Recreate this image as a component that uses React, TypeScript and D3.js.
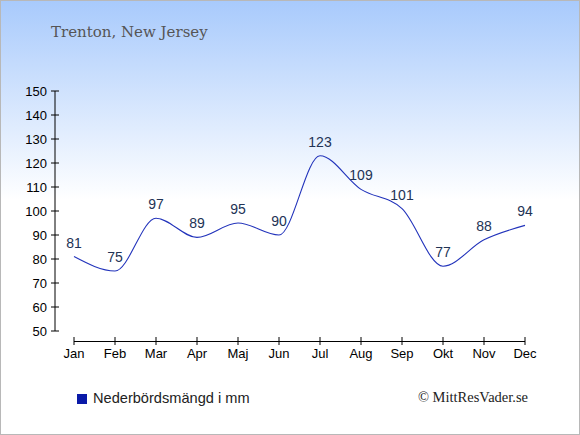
import React from 'react';
import * as d3 from 'd3';

const months = ['Jan', 'Feb', 'Mar', 'Apr', 'Maj', 'Jun', 'Jul', 'Aug', 'Sep', 'Okt', 'Nov', 'Dec'];
const precipitation = [81, 75, 97, 89, 95, 90, 123, 109, 101, 77, 88, 94];
const yTicks = [50, 60, 70, 80, 90, 100, 110, 120, 130, 140, 150];

const W = 580;
const H = 435;

const App: React.FC = () => {
  const x = d3.scalePoint<string>().domain(months).range([74, 525]);
  const y = d3.scaleLinear().domain([50, 150]).range([331, 91]);

  const line = d3.line<number>()
    .x((_, i) => x(months[i]) as number)
    .y(d => y(d))
    .curve(d3.curveMonotoneX);

  return (
    <svg width={W} height={H} style={{ position: 'absolute', left: 0, top: 0 }}>
      <defs>
        <linearGradient id="bg" x1="0" y1="0" x2="0" y2="1">
          <stop offset="0" stopColor="#a8cafc" />
          <stop offset="0.46" stopColor="#ffffff" />
          <stop offset="1" stopColor="#ffffff" />
        </linearGradient>
      </defs>
      <rect x={0.5} y={0.5} width={W - 1} height={H - 1} fill="url(#bg)" stroke="#b8b8b8" />

      <text x={51} y={37} fontFamily="'DejaVu Serif', serif" fontSize={15} fill="#555">
        Trenton, New Jersey
      </text>

      {/* y axis */}
      <g fontFamily="'Liberation Sans', Arial, sans-serif" fontSize={13} fill="#000">
        <line x1={55} x2={55} y1={y(150)} y2={y(50)} stroke="#000" />
        {yTicks.map(t => (
          <g key={t}>
            <line x1={51} x2={59} y1={y(t)} y2={y(t)} stroke="#000" />
            <text x={47} y={y(t) + 5} textAnchor="end">{t}</text>
          </g>
        ))}
      </g>

      {/* x axis */}
      <g fontFamily="'Liberation Sans', Arial, sans-serif" fontSize={13} fill="#000">
        <line x1={x('Jan')} x2={x('Dec')} y1={341.5} y2={341.5} stroke="#000" />
        {months.map(m => (
          <g key={m}>
            <line x1={x(m)} x2={x(m)} y1={337} y2={345} stroke="#000" />
            <text x={x(m)} y={358} textAnchor="middle">{m}</text>
          </g>
        ))}
      </g>

      <path d={line(precipitation) || ''} fill="none" stroke="#2233bb" strokeWidth={1.1} />

      <g fontFamily="'Liberation Sans', Arial, sans-serif" fontSize={14} fill="#223355" textAnchor="middle">
        {precipitation.map((v, i) => (
          <text key={i} x={x(months[i])} y={y(v) - 9}>{v}</text>
        ))}
      </g>

      <rect x={77} y={394} width={10} height={10} fill="#0a1aa8" />
      <text x={93} y={403} fontFamily="'Liberation Sans', Arial, sans-serif" fontSize={14.6} fill="#222">
        Nederbördsmängd i mm
      </text>

      <text x={528} y={402} textAnchor="end" fontFamily="'Liberation Serif', serif" fontSize={14.5} fill="#222">
        © MittResVader.se
      </text>
    </svg>
  );
};

export default App;
